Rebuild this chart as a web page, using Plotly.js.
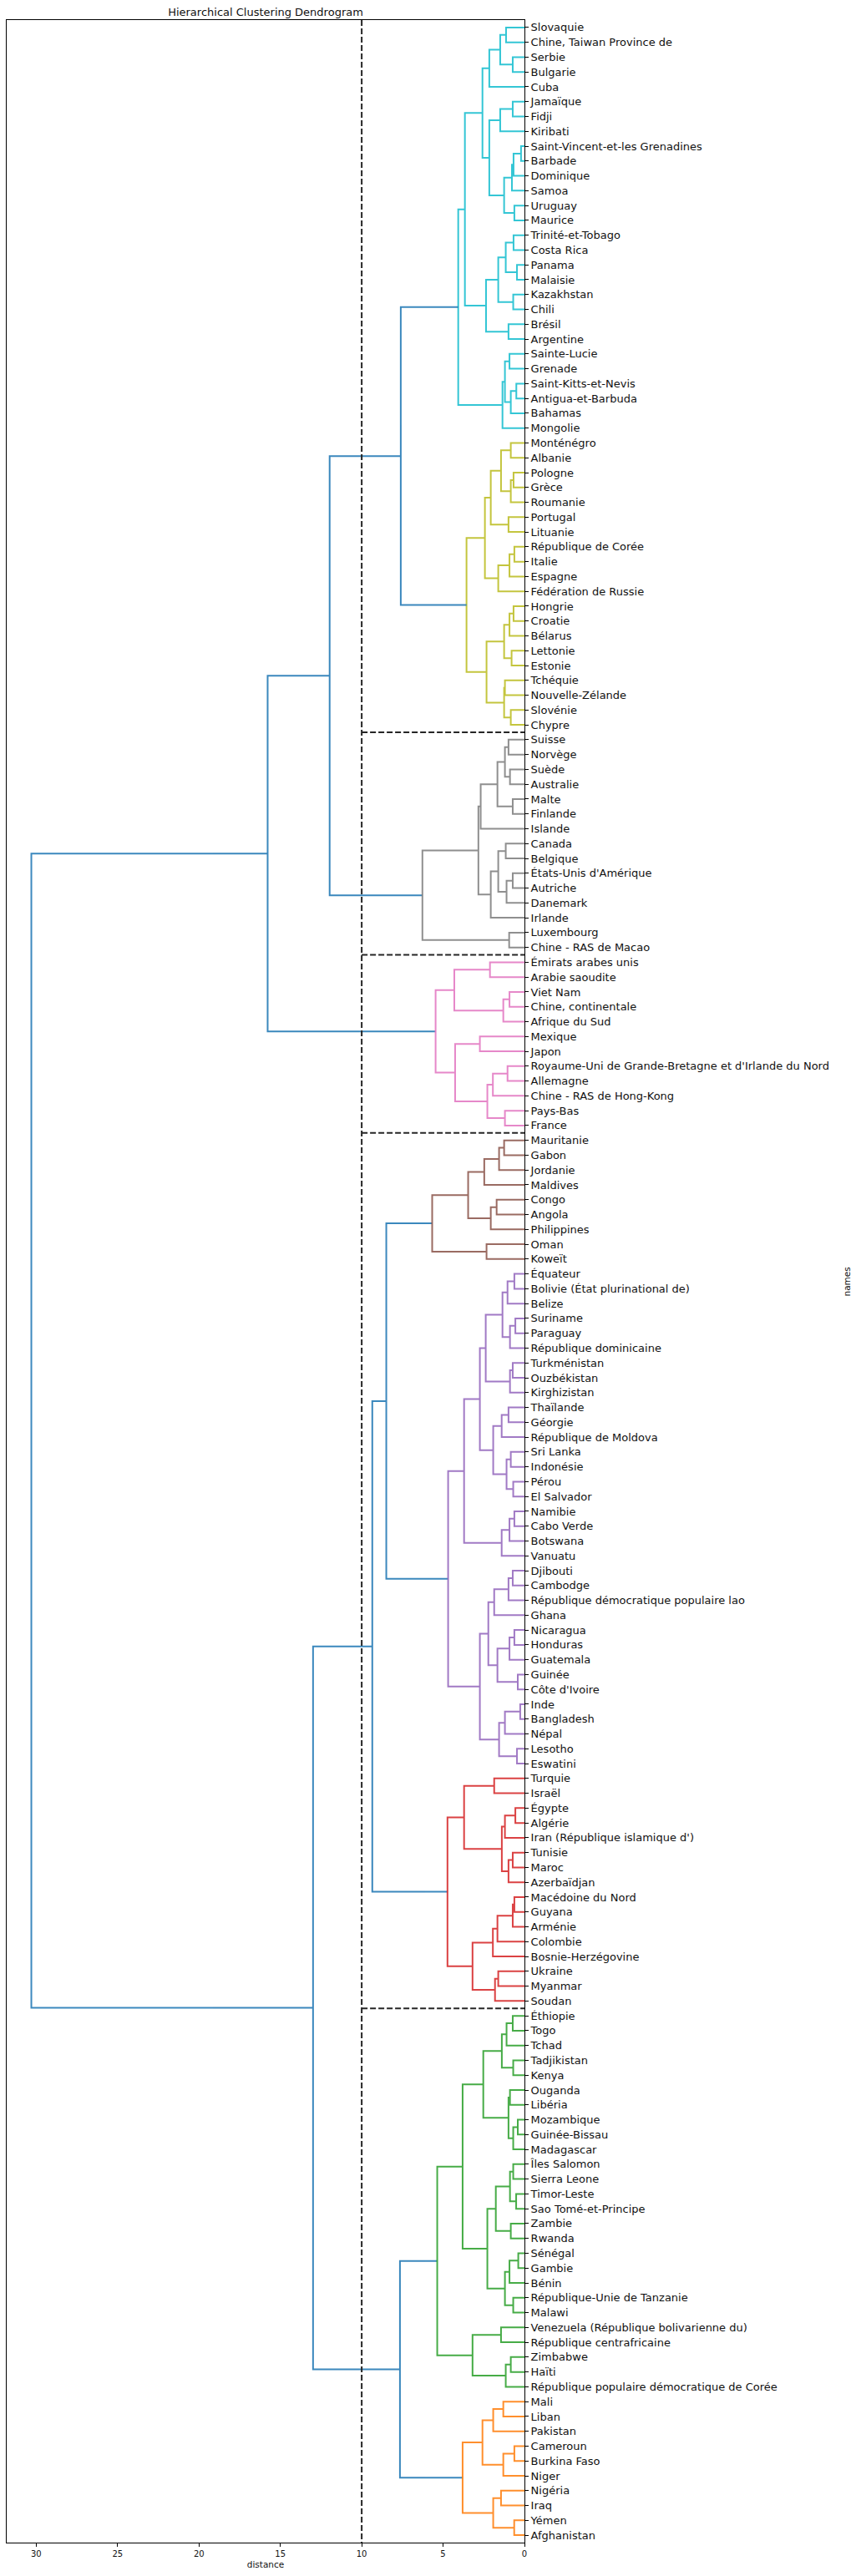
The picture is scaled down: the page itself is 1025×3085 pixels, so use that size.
<!DOCTYPE html>
<html>
<head>
<meta charset="utf-8">
<script src="https://cdn.plot.ly/plotly-3.0.1.min.js"></script>
<style>html,body{margin:0;padding:0;background:#fff}</style>
</head>
<body>
<div id="chart" style="width:1025px;height:3085px"></div>
<script>
// Leaf labels, top to bottom
const names = [
"Slovaquie","Chine, Taiwan Province de","Serbie","Bulgarie","Cuba","Jamaïque","Fidji","Kiribati",
"Saint-Vincent-et-les Grenadines","Barbade","Dominique","Samoa","Uruguay","Maurice","Trinité-et-Tobago",
"Costa Rica","Panama","Malaisie","Kazakhstan","Chili","Brésil","Argentine","Sainte-Lucie","Grenade",
"Saint-Kitts-et-Nevis","Antigua-et-Barbuda","Bahamas","Mongolie","Monténégro","Albanie","Pologne","Grèce",
"Roumanie","Portugal","Lituanie","République de Corée","Italie","Espagne","Fédération de Russie","Hongrie",
"Croatie","Bélarus","Lettonie","Estonie","Tchéquie","Nouvelle-Zélande","Slovénie","Chypre","Suisse",
"Norvège","Suède","Australie","Malte","Finlande","Islande","Canada","Belgique","États-Unis d'Amérique",
"Autriche","Danemark","Irlande","Luxembourg","Chine - RAS de Macao","Émirats arabes unis","Arabie saoudite",
"Viet Nam","Chine, continentale","Afrique du Sud","Mexique","Japon",
"Royaume-Uni de Grande-Bretagne et d'Irlande du Nord","Allemagne","Chine - RAS de Hong-Kong","Pays-Bas",
"France","Mauritanie","Gabon","Jordanie","Maldives","Congo","Angola","Philippines","Oman","Koweït",
"Équateur","Bolivie (État plurinational de)","Belize","Suriname","Paraguay","République dominicaine",
"Turkménistan","Ouzbékistan","Kirghizistan","Thaïlande","Géorgie","République de Moldova","Sri Lanka",
"Indonésie","Pérou","El Salvador","Namibie","Cabo Verde","Botswana","Vanuatu","Djibouti","Cambodge",
"République démocratique populaire lao","Ghana","Nicaragua","Honduras","Guatemala","Guinée",
"Côte d'Ivoire","Inde","Bangladesh","Népal","Lesotho","Eswatini","Turquie","Israël","Égypte","Algérie",
"Iran (République islamique d')","Tunisie","Maroc","Azerbaïdjan","Macédoine du Nord","Guyana","Arménie",
"Colombie","Bosnie-Herzégovine","Ukraine","Myanmar","Soudan","Éthiopie","Togo","Tchad","Tadjikistan",
"Kenya","Ouganda","Libéria","Mozambique","Guinée-Bissau","Madagascar","Îles Salomon","Sierra Leone",
"Timor-Leste","Sao Tomé-et-Principe","Zambie","Rwanda","Sénégal","Gambie","Bénin",
"République-Unie de Tanzanie","Malawi","Venezuela (République bolivarienne du)",
"République centrafricaine","Zimbabwe","Haïti","République populaire démocratique de Corée","Mali",
"Liban","Pakistan","Cameroun","Burkina Faso","Niger","Nigéria","Iraq","Yémen","Afghanistan"
];

// Cluster subtrees: [upper child, lower child, merge distance]; integers are leaf indices
const cyanTree = [
  [
    [[[[0,1,1.13],[2,3,0.72],1.49],4,2.16],
     [[[5,6,0.72],7,1.49],[[[[8,9,0.21],10,0.67],11,0.77],[12,13,0.62],1.25],2.16],2.58],
    [[[[14,15,0.67],[16,17,0.46],1.15],[18,19,0.69],1.61],[20,21,0.98],2.36],
    3.66],
  [[[22,23,0.92],[[24,25,0.50],26,0.84],1.20],27,1.35],
  4.07];
const oliveTree = [
  [[[[28,29,0.84],[[30,31,0.67],32,0.84],1.44],[33,34,0.98],2.07],[[[35,36,0.62],37,0.92],38,1.61],2.43],
  [[[[39,40,0.67],41,0.92],[42,43,0.79],1.25],[[44,45,1.20],[46,47,0.84],1.25],2.33],
  3.56];
const greyTree = [
  [[[[[48,49,0.98],[50,51,0.89],1.20],[52,53,0.72],1.66],54,2.69],
   [[[55,56,1.15],[[57,58,0.72],59,1.10],1.61],60,2.07],2.83],
  [61,62,0.94],
  6.27];
const pinkTree = [
  [[63,64,2.12],[[65,66,0.92],67,1.30],4.31],
  [[68,69,2.74],[[[70,71,1.04],72,1.94],[73,74,1.20],2.28],4.26],
  5.46];
const brownTree = [
  [[[[75,76,1.25],77,1.56],78,2.47],[[79,80,1.71],81,2.07],3.46],
  [82,83,2.33],
  5.67];
const purpleTree = [
  [[[[[[84,85,0.62],86,1.04],[[87,88,0.56],89,0.89],1.35],[[90,91,0.72],92,0.89],2.38],
    [[[93,94,0.98],95,1.40],[[96,97,0.84],[98,99,0.69],1.10],1.92],2.74],
   [[[100,101,0.62],102,0.92],103,1.40],3.71],
  [[[[[104,105,0.72],106,0.98],107,1.86],[[[108,109,0.62],110,0.92],[111,112,0.41],1.66],2.22],
   [[[113,114,0.26],115,1.20],[116,117,0.46],1.56],2.74],
  4.69];
const redTree = [
  [[118,119,1.86],[[[120,121,0.56],122,1.20],[[123,124,0.72],125,0.98],1.39],3.71],
  [[[[[126,127,0.62],128,0.72],129,1.66],130,1.94],[[131,132,1.61],133,1.81],3.19],
  4.73];
const greenTree = [
  [[[[[134,135,0.72],136,1.10],[137,138,0.69],1.39],[[139,140,0.89],[[141,142,0.41],143,0.69],0.98],2.53],
   [[[[144,145,0.69],[146,147,0.51],0.89],[148,149,0.84],1.76],[[[150,151,0.38],152,0.92],[153,154,0.69],1.20],2.28],
   3.80],
  [[155,156,1.44],[[157,158,0.84],159,1.15],3.19],
  5.36];
const orangeTree = [
  [[[160,161,1.30],162,1.92],[[163,164,0.62],165,1.30],2.58],
  [[166,167,1.44],[168,169,0.63],1.92],
  3.80];

// Upper-level merges (above colour threshold)
const upperTree = [[[cyanTree, oliveTree, 7.60], greyTree, 11.97], pinkTree, 15.78];
const lowerTree = [[[brownTree, purpleTree, 8.49], redTree, 9.35], [greenTree, orangeTree, 7.65], 12.99];
const rootTree = [upperTree, lowerTree, 30.30];

const cutDistance = 10;
const cutBoundaries = [48, 63, 75, 134]; // first leaf index of each cut cluster after the first

const clusterColors = new Map([
  [cyanTree, '#17becf'], [oliveTree, '#bcbd22'], [greyTree, '#7f7f7f'], [pinkTree, '#e377c2'],
  [brownTree, '#8c564b'], [purpleTree, '#9467bd'], [redTree, '#d62728'], [greenTree, '#2ca02c'],
  [orangeTree, '#ff7f0e']
]);
const aboveColor = '#1f77b4';

const segs = {};
function leafPos(i){ return 10*i + 5; }
function walk(node, color){
  if (typeof node === 'number') return {y: leafPos(node), h: 0};
  if (clusterColors.has(node)) color = clusterColors.get(node);
  const a = walk(node[0], color), b = walk(node[1], color), h = node[2];
  if (!segs[color]) segs[color] = {x: [], y: []};
  segs[color].x.push(a.h, h, h, b.h, null);
  segs[color].y.push(a.y, a.y, b.y, b.y, null);
  return {y: (a.y + b.y)/2, h: h};
}
walk(rootTree, aboveColor);

const traces = Object.keys(segs).map(c => ({
  type: 'scatter', mode: 'lines', x: segs[c].x, y: segs[c].y, opacity: 0.87,
  line: {color: c, width: 2}, hoverinfo: 'skip', showlegend: false
}));

const nLeaves = names.length;
const ymax = 10*nLeaves;
const xmax = 1.05*rootTree[2];

const shapes = [{
  type: 'line', xref: 'x', yref: 'y', x0: cutDistance, x1: cutDistance, y0: 0, y1: ymax,
  line: {color: '#262626', width: 2, dash: '7px,3px'}
}];
cutBoundaries.forEach(b => shapes.push({
  type: 'line', xref: 'x', yref: 'y', x0: cutDistance, x1: 0, y0: 10*b, y1: 10*b,
  line: {color: '#262626', width: 2, dash: '7px,3px'}
}));

const layout = {
  width: 1025, height: 3085,
  margin: {l: 8, r: 397, t: 24, b: 40, pad: 0},
  paper_bgcolor: '#fff', plot_bgcolor: '#fff',
  font: {family: 'DejaVu Sans, sans-serif', color: '#111'},
  title: {text: 'Hierarchical Clustering Dendrogram', font: {size: 13, color: '#111'},
          x: 0.5, xref: 'paper', xanchor: 'center', y: 1 - 14/3085, yref: 'container', yanchor: 'middle'},
  xaxis: {
    range: [xmax, 0], tickvals: [0,5,10,15,20,25,30], ticks: 'outside', ticklen: 4, tickwidth: 1,
    tickcolor: '#000', showline: true, linecolor: '#000', linewidth: 1, mirror: true,
    showgrid: false, zeroline: false, tickfont: {size: 10},
    title: {text: 'distance', font: {size: 10.5}, standoff: 4}
  },
  yaxis: {
    range: [ymax, 0], side: 'right', tickvals: names.map((n,i) => leafPos(i)), ticktext: names,
    ticks: 'outside', ticklen: 4, tickwidth: 1, tickcolor: '#000', showline: true, linecolor: '#000',
    linewidth: 1, mirror: true, showgrid: false, zeroline: false, tickfont: {size: 13}
  },
  annotations: [{
    text: 'names', xref: 'paper', yref: 'paper', x: (1013-8)/620, y: 0.5, textangle: -90,
    showarrow: false, xanchor: 'center', yanchor: 'middle', font: {size: 10.5}
  }],
  shapes: shapes
};

Plotly.newPlot('chart', traces, layout, {staticPlot: true, displayModeBar: false});
</script>
</body>
</html>
